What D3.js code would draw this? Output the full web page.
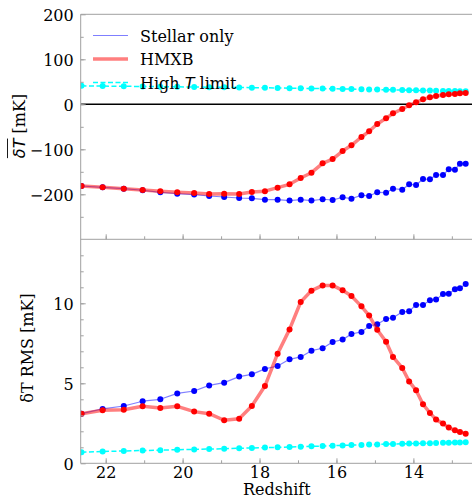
<!DOCTYPE html>
<html>
<head>
<meta charset="utf-8">
<script src="https://cdn.jsdelivr.net/npm/d3@7"></script>
<style>
  html, body { margin: 0; padding: 0; background: #fff; }
  svg { display: block; }
</style>
</head>
<body>
<div id="chart"></div>
<script>
// Redshift of each snapshot
const redshift = [22.63, 22.08, 21.53, 21.04, 20.58, 20.14, 19.70, 19.31, 18.92, 18.53,
  18.20, 17.86, 17.53, 17.22, 16.93, 16.65, 16.36, 16.10, 15.84, 15.61,
  15.35, 15.15, 14.94, 14.71, 14.53, 14.29, 14.11, 13.93, 13.75, 13.57,
  13.41, 13.23, 13.08, 12.92, 12.79, 12.64];

// Global mean brightness temperature [mK]
const meanStellar = [-181.6, -184.5, -187.5, -191.0, -195.6, -198.6, -200.7, -203.8, -206.0, -208.2,
  -209.0, -212.0, -212.0, -214.0, -212.0, -214.0, -211.0, -212.7, -206.7, -209.7,
  -202.0, -203.8, -195.6, -196.4, -187.5, -189.8, -177.8, -179.3, -166.0, -166.7,
  -157.0, -157.0, -144.5, -145.2, -132.0, -132.0];
const meanHMXB = [-181.6, -184.5, -187.5, -190.4, -193.4, -195.6, -197.0, -199.3, -198.6, -199.3,
  -194.8, -193.0, -185.3, -177.8, -163.8, -152.0, -131.2, -121.6, -103.8, -91.2,
  -72.7, -60.0, -43.8, -31.1, -20.0, -10.4, -2.2, 4.4, 11.1, 15.6,
  18.4, 20.7, 22.2, 22.9, 24.4, 25.1];
const meanHighT = [41.0, 40.5, 40.0, 39.6, 39.2, 38.8, 38.4, 38.0, 37.7, 37.3,
  37.0, 36.6, 36.3, 35.9, 35.6, 35.2, 34.9, 34.5, 34.2, 33.8,
  33.5, 33.1, 32.8, 32.4, 32.1, 31.7, 31.4, 31.0, 30.7, 30.4,
  30.1, 29.8, 29.5, 29.3, 29.1, 28.9];

// RMS brightness temperature fluctuation [mK]
const rmsStellar = [3.10, 3.40, 3.58, 3.88, 4.00, 4.37, 4.52, 4.87, 5.04, 5.42,
  5.56, 5.90, 6.08, 6.50, 6.65, 7.04, 7.19, 7.58, 7.73, 8.08,
  8.21, 8.58, 8.69, 9.02, 9.10, 9.46, 9.50, 9.90, 9.90, 10.19,
  10.23, 10.58, 10.60, 10.88, 10.94, 11.21];
const rmsHMXB = [3.10, 3.31, 3.35, 3.56, 3.46, 3.56, 3.23, 3.10, 2.69, 2.79,
  3.58, 4.83, 6.85, 8.37, 10.08, 10.79, 11.12, 11.12, 10.81, 10.46,
  9.81, 9.23, 8.35, 7.60, 6.65, 5.96, 5.12, 4.56, 3.69, 3.15,
  2.73, 2.48, 2.23, 2.06, 1.96, 1.85];
const rmsHighT = [0.69, 0.74, 0.77, 0.80, 0.82, 0.85, 0.87, 0.89, 0.91, 0.94,
  0.96, 0.98, 1.00, 1.02, 1.04, 1.06, 1.08, 1.10, 1.12, 1.14,
  1.15, 1.17, 1.18, 1.20, 1.21, 1.22, 1.23, 1.24, 1.25, 1.26,
  1.27, 1.28, 1.29, 1.30, 1.30, 1.31];

// Axis ticks
const xTicks = [22, 20, 18, 16, 14];
const xMinorTicks = [22, 21, 20, 19, 18, 17, 16, 15, 14, 13];
const meanTicks = [-200, -100, 0, 100, 200];
const meanMinorTicks = [-250, -200, -150, -100, -50, 0, 50, 100, 150];
const rmsTicks = [0, 5, 10];
const rmsMinorTicks = [1, 2, 3, 4, 5, 6, 7, 8, 9, 10, 11, 12, 13];

const W = 472, H = 496;
const left = 80.7, right = 473;
const topPanel = { y0: 14.3, y1: 239.3 };
const botPanel = { y0: 239.3, y1: 463.3 };

const SERIF = '"DejaVu Serif"';
const SANS = '"DejaVu Sans"';
const fontSize = "16px";
const spineColor = "#a0a0a0";

const svg = d3.select("#chart").append("svg").attr("width", W).attr("height", H);

const x = d3.scaleLinear().domain([22.65, 12.45]).range([left, right]);
const yMean = d3.scaleLinear().domain([-300, 200]).range([topPanel.y1, topPanel.y0]);
const yRms = d3.scaleLinear().domain([0, 14]).range([botPanel.y1, botPanel.y0]);

const defs = svg.append("defs");
defs.append("clipPath").attr("id", "clipTop").append("rect")
  .attr("x", left).attr("y", topPanel.y0).attr("width", right - left).attr("height", topPanel.y1 - topPanel.y0);
defs.append("clipPath").attr("id", "clipBot").append("rect")
  .attr("x", left).attr("y", botPanel.y0).attr("width", right - left).attr("height", botPanel.y1 - botPanel.y0);

function drawSeries(g, y, values, style) {
  const pts = redshift.map((z, i) => [z, values[i]]);
  const line = d3.line().x(d => x(d[0])).y(d => y(d[1]));
  g.append("path").attr("d", line(pts))
    .attr("fill", "none")
    .attr("stroke", style.line)
    .attr("stroke-width", style.width)
    .attr("stroke-dasharray", style.dash || null)
    .attr("stroke-linejoin", "round")
    .attr("stroke-linecap", style.dash ? "butt" : "round");
  g.selectAll(null).data(pts).enter().append("circle")
    .attr("cx", d => x(d[0])).attr("cy", d => y(d[1]))
    .attr("r", 3).attr("fill", style.marker);
}

const styles = {
  highT: { line: "#00ffff", width: 1.5, dash: "5,2.5", marker: "#00ffff" },
  stellar: { line: "rgba(0,0,255,0.5)", width: 1.2, marker: "#0000ff" },
  hmxb: { line: "rgba(255,0,0,0.5)", width: 3.5, marker: "#ff0000" }
};

// Panel 1: mean brightness temperature
const gTop = svg.append("g").attr("clip-path", "url(#clipTop)");
gTop.append("line").attr("x1", left).attr("x2", right)
  .attr("y1", yMean(0)).attr("y2", yMean(0))
  .attr("stroke", "#000").attr("stroke-width", 1.5);
drawSeries(gTop, yMean, meanHighT, styles.highT);
drawSeries(gTop, yMean, meanStellar, styles.stellar);
drawSeries(gTop, yMean, meanHMXB, styles.hmxb);

// Panel 2: RMS
const gBot = svg.append("g").attr("clip-path", "url(#clipBot)");
drawSeries(gBot, yRms, rmsHighT, styles.highT);
drawSeries(gBot, yRms, rmsStellar, styles.stellar);
drawSeries(gBot, yRms, rmsHMXB, styles.hmxb);

// Axes: ticks point inward, grey spines
function styleAxis(g) {
  g.select(".domain").remove();
  g.selectAll(".tick line").attr("stroke", spineColor);
  g.selectAll(".tick text").style("font-size", fontSize).style("font-family", SERIF).attr("fill", "#000");
}

function yAxis(scale, ticks, minor) {
  const gMinor = svg.append("g").attr("transform", `translate(${left},0)`)
    .call(d3.axisRight(scale).tickValues(minor).tickSize(3).tickFormat(""));
  styleAxis(gMinor);
  const gMajor = svg.append("g").attr("transform", `translate(${left},0)`)
    .call(d3.axisRight(scale).tickValues(ticks).tickSize(5)
      .tickFormat(d => d < 0 ? "\u2212" + Math.abs(d) : String(d)));
  styleAxis(gMajor);
  gMajor.selectAll(".tick text").attr("x", -7).attr("text-anchor", "end").attr("dy", "0.36em");
}
yAxis(yMean, meanTicks, meanMinorTicks);
yAxis(yRms, rmsTicks, rmsMinorTicks);

function xAxis(yPos, labels) {
  const gMinor = svg.append("g").attr("transform", `translate(0,${yPos})`)
    .call(d3.axisTop(x).tickValues(xMinorTicks).tickSize(3).tickFormat(""));
  styleAxis(gMinor);
  const gMajor = svg.append("g").attr("transform", `translate(0,${yPos})`)
    .call(d3.axisTop(x).tickValues(xTicks).tickSize(5).tickFormat(labels ? d3.format("d") : ""));
  styleAxis(gMajor);
  if (labels) gMajor.selectAll(".tick text").attr("y", 14.5).attr("dy", 0);
}
xAxis(topPanel.y1, false);
xAxis(botPanel.y1, true);

// Spines
function spine(x1, y1, x2, y2) {
  svg.append("line").attr("x1", x1).attr("y1", y1).attr("x2", x2).attr("y2", y2)
    .attr("stroke", spineColor).attr("stroke-width", 1);
}
spine(left, topPanel.y0, left, botPanel.y1);
spine(left, topPanel.y0, right, topPanel.y0);
spine(left, topPanel.y1, right, topPanel.y1);
spine(left, botPanel.y1, right, botPanel.y1);

// Axis labels
svg.append("text").attr("x", (left + right) / 2).attr("y", 494.5)
  .attr("text-anchor", "middle")
  .style("font-family", SERIF).style("font-size", fontSize)
  .text("Redshift");

function yLabel(cx, cy, parts, overline) {
  const g = svg.append("g").attr("transform", `translate(${cx},${cy}) rotate(-90)`);
  const t = g.append("text").style("font-size", fontSize);
  const spans = parts.map(p => t.append("tspan")
    .style("font-family", p.sans ? SANS : SERIF)
    .style("font-style", p.italic ? "italic" : "normal").text(p.text));
  const total = t.node().getComputedTextLength();
  t.attr("x", -total / 2);
  if (overline) {
    const w = spans[0].node().getComputedTextLength();
    g.append("line").attr("x1", -total / 2).attr("x2", -total / 2 + w)
      .attr("y1", -17.5).attr("y2", -17.5).attr("stroke", "#000").attr("stroke-width", 0.9);
  }
}
yLabel(25, 126, [
  { text: "\u03B4T", sans: true, italic: true },
  { text: " [mK]" }
], true);
yLabel(33, 348, [
  { text: "\u03B4T RMS [mK]" }
], false);

// Legend
const legend = svg.append("g");
const legendItems = [
  { label: [{ t: "Stellar only" }], style: styles.stellar, y: 35.5 },
  { label: [{ t: "HMXB" }], style: styles.hmxb, y: 59 },
  { label: [{ t: "High " }, { t: "T", italic: true }, { t: " limit" }], style: styles.highT, y: 82.5 }
];
legendItems.forEach(item => {
  legend.append("line").attr("x1", 93).attr("x2", 128).attr("y1", item.y).attr("y2", item.y)
    .attr("stroke", item.style.line).attr("stroke-width", item.style.width)
    .attr("stroke-dasharray", item.style.dash || null);
  const t = legend.append("text").attr("x", 140).attr("y", item.y + 6).style("font-size", fontSize);
  item.label.forEach(p => t.append("tspan")
    .style("font-family", p.italic ? SANS : SERIF)
    .style("font-style", p.italic ? "italic" : "normal").text(p.t));
});
</script>
</body>
</html>
